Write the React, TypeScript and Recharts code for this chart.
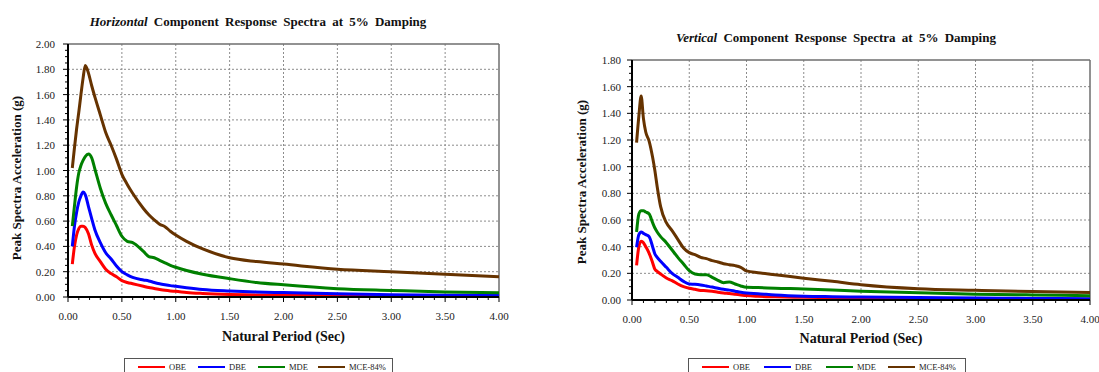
import React from "react";
import { LineChart, Line, XAxis, YAxis, CartesianGrid, ReferenceLine } from "recharts";

// Horizontal component, 5% damping
const hPeriod = [0.04, 0.06, 0.08, 0.1, 0.12, 0.14, 0.16, 0.19, 0.22, 0.25, 0.3, 0.35, 0.4, 0.45, 0.5, 0.55, 0.6, 0.7, 0.75, 0.8, 0.85, 0.9, 0.95, 1.0, 1.1, 1.25, 1.5, 1.75, 2.0, 2.5, 3.0, 3.5, 4.0];
const hOBE = [0.26, 0.4, 0.49, 0.54, 0.56, 0.56, 0.55, 0.5, 0.41, 0.345, 0.28, 0.22, 0.185, 0.16, 0.13, 0.115, 0.105, 0.085, 0.075, 0.068, 0.06, 0.053, 0.048, 0.045, 0.036, 0.028, 0.02, 0.016, 0.013, 0.01, 0.008, 0.006, 0.005];
const hDBE = [0.4, 0.56, 0.67, 0.75, 0.8, 0.83, 0.81, 0.715, 0.62, 0.53, 0.43, 0.35, 0.3, 0.245, 0.2, 0.175, 0.155, 0.135, 0.127, 0.115, 0.105, 0.097, 0.09, 0.085, 0.074, 0.06, 0.048, 0.04, 0.035, 0.025, 0.018, 0.014, 0.012];
const hMDE = [0.56, 0.72, 0.87, 0.98, 1.04, 1.08, 1.11, 1.13, 1.1, 1.01, 0.86, 0.74, 0.65, 0.565, 0.48, 0.44, 0.43, 0.36, 0.32, 0.31, 0.29, 0.27, 0.25, 0.235, 0.21, 0.18, 0.145, 0.115, 0.096, 0.066, 0.052, 0.04, 0.034];
const hMCE = [1.02, 1.18, 1.33, 1.46, 1.6, 1.73, 1.83, 1.77, 1.67, 1.58, 1.44, 1.3, 1.2, 1.09, 0.97, 0.89, 0.82, 0.7, 0.65, 0.61, 0.575, 0.556, 0.52, 0.49, 0.44, 0.38, 0.31, 0.28, 0.26, 0.22, 0.2, 0.18, 0.16];

// Vertical component, 5% damping
const vPeriod = [0.04, 0.06, 0.08, 0.1, 0.12, 0.15, 0.18, 0.2, 0.22, 0.25, 0.3, 0.35, 0.4, 0.45, 0.5, 0.55, 0.6, 0.65, 0.7, 0.75, 0.8, 0.85, 0.9, 0.95, 1.0, 1.1, 1.25, 1.5, 1.75, 2.0, 2.5, 3.0, 3.5, 4.0];
const vOBE = [0.26, 0.4, 0.44, 0.43, 0.4, 0.35, 0.28, 0.23, 0.215, 0.195, 0.165, 0.145, 0.12, 0.1, 0.088, 0.08, 0.072, 0.07, 0.065, 0.058, 0.052, 0.048, 0.043, 0.038, 0.033, 0.028, 0.024, 0.02, 0.017, 0.014, 0.011, 0.008, 0.006, 0.005];
const vDBE = [0.395, 0.49, 0.51, 0.5, 0.49, 0.475, 0.4, 0.345, 0.32, 0.29, 0.245, 0.2, 0.17, 0.14, 0.12, 0.118, 0.113, 0.105, 0.097, 0.088, 0.08, 0.074, 0.066, 0.058, 0.052, 0.047, 0.038, 0.029, 0.025, 0.022, 0.018, 0.015, 0.012, 0.01];
const vMDE = [0.51, 0.645, 0.67, 0.67, 0.66, 0.645, 0.58, 0.54, 0.51, 0.475, 0.43, 0.375, 0.32, 0.27, 0.22, 0.195, 0.19, 0.19, 0.17, 0.148, 0.13, 0.135, 0.12, 0.105, 0.095, 0.093, 0.088, 0.083, 0.075, 0.066, 0.054, 0.044, 0.038, 0.032];
const vMCE = [1.18, 1.38, 1.53, 1.36, 1.26, 1.19, 1.07, 0.97, 0.85, 0.7, 0.58, 0.52, 0.455, 0.39, 0.355, 0.34, 0.32, 0.31, 0.295, 0.285, 0.272, 0.265, 0.258, 0.245, 0.218, 0.205, 0.19, 0.163, 0.14, 0.115, 0.085, 0.073, 0.063, 0.056];

const seriesKeys = ["obe", "dbe", "mde", "mce"];
const seriesNames = ["OBE", "DBE", "MDE", "MCE-84%"];
const seriesColors = ["#ff0000", "#0000ff", "#008000", "#663300"];

const xMajor = [0, 0.5, 1, 1.5, 2, 2.5, 3, 3.5, 4];
const hYMajor = [0, 0.2, 0.4, 0.6, 0.8, 1.0, 1.2, 1.4, 1.6, 1.8, 2.0];
const vYMajor = [0, 0.2, 0.4, 0.6, 0.8, 1.0, 1.2, 1.4, 1.6, 1.8];

const FONT = '"Liberation Serif", "Times New Roman", Times, serif';

const steps = (max: number, step: number) =>
  Array.from({ length: Math.round(max / step) + 1 }, (_, i) => +(i * step).toFixed(3));

const isMultiple = (v: number, step: number) => Math.abs(v / step - Math.round(v / step)) < 1e-6;

const buildRows = (period: number[], obe: number[], dbe: number[], mde: number[], mce: number[]) =>
  period.map((p, i) => ({ period: p, obe: obe[i], dbe: dbe[i], mde: mde[i], mce: mce[i] }));

const XTick = (props: any) => {
  const { x, y, payload } = props;
  const major = isMultiple(payload.value, 0.5);
  return (
    <g>
      <line x1={x} y1={y} x2={x} y2={y + (major ? 5 : 3)} stroke="#000" strokeWidth={1} />
      {major && (
        <text x={x} y={y + 23} textAnchor="middle" fontFamily={FONT} fontSize={11} fill="#222">
          {payload.value.toFixed(2)}
        </text>
      )}
    </g>
  );
};

const makeYTick = (gap: number) => (props: any) => {
  const { x, y, payload } = props;
  const major = isMultiple(payload.value, 0.2);
  return (
    <g>
      <line x1={x} y1={y} x2={x - (major ? 5 : 3)} y2={y} stroke="#000" strokeWidth={1} />
      {major && (
        <text x={x - gap} y={y + 4} textAnchor="end" fontFamily={FONT} fontSize={11} fill="#222">
          {payload.value.toFixed(2)}
        </text>
      )}
    </g>
  );
};

type PanelProps = {
  x0: number;
  width: number;
  plot: { left: number; right: number; top: number; bottom: number };
  yMax: number;
  yMajor: number[];
  rows: any[];
  italic: string;
  title: string;
  titleY: number;
  titleCx: number;
  xTitleY: number;
  yTitleCx: number;
  yTitleCy: number;
  labelGap: number;
  legend: { left: number; width: number; pitch: number };
};

function Panel(p: PanelProps) {
  const margin = { top: p.plot.top, right: p.width - (p.plot.right - p.x0), left: 0, bottom: 0 };
  const plotCx = (p.plot.left + p.plot.right) / 2 - p.x0;
  return (
    <div style={{ position: "absolute", left: p.x0, top: 0, width: p.width, height: 372, overflow: "hidden" }}>
      <div
        style={{
          position: "absolute",
          left: p.titleCx - p.x0 - 250,
          width: 500,
          top: p.titleY - 8,
          lineHeight: "16px",
          textAlign: "center",
          fontFamily: FONT,
          fontWeight: "bold",
          fontSize: 13,
          wordSpacing: 3,
          color: "#111",
        }}
      >
        <i>{p.italic}</i> {p.title}
      </div>
      <LineChart width={p.width} height={372} data={p.rows} margin={margin}>
        <CartesianGrid
          stroke="#8c8c8c"
          strokeDasharray="2 2"
          verticalValues={xMajor.slice(1, -1)}
          horizontalValues={p.yMajor.slice(1, -1)}
        />
        <XAxis
          dataKey="period"
          type="number"
          domain={[0, 4]}
          ticks={steps(4, 0.1)}
          interval={0}
          tickSize={0}
          tickMargin={0}
          tickLine={false}
          height={372 - p.plot.bottom}
          axisLine={{ stroke: "#000", strokeWidth: 2 }}
          tick={XTick}
          allowDataOverflow
        />
        <YAxis
          type="number"
          domain={[0, p.yMax]}
          ticks={steps(p.yMax, 0.05)}
          interval={0}
          tickSize={0}
          tickMargin={0}
          tickLine={false}
          width={p.plot.left - p.x0}
          axisLine={{ stroke: "#000", strokeWidth: 2 }}
          tick={makeYTick(p.labelGap)}
          allowDataOverflow
        />
        <ReferenceLine x={4} stroke="#6e6e6e" strokeWidth={1.5} />
        <ReferenceLine y={p.yMax} stroke="#6e6e6e" strokeWidth={1.5} />
        {seriesKeys.map((k, i) => (
          <Line
            key={k}
            dataKey={k}
            name={seriesNames[i]}
            type="monotone"
            stroke={seriesColors[i]}
            strokeWidth={3}
            dot={false}
            isAnimationActive={false}
          />
        ))}
      </LineChart>
      <div
        style={{
          position: "absolute",
          left: plotCx - 200,
          width: 400,
          top: p.xTitleY - 9,
          lineHeight: "18px",
          textAlign: "center",
          fontFamily: FONT,
          fontWeight: "bold",
          fontSize: 14,
          color: "#111",
        }}
      >
        Natural Period (Sec)
      </div>
      <div
        style={{
          position: "absolute",
          left: p.yTitleCx - p.x0 - 150,
          width: 300,
          top: p.yTitleCy - 8,
          lineHeight: "16px",
          textAlign: "center",
          fontFamily: FONT,
          fontWeight: "bold",
          fontSize: 13,
          color: "#111",
          transform: "rotate(-90deg)",
        }}
      >
        Peak Spectra Acceleration (g)
      </div>
      <div
        style={{
          position: "absolute",
          left: p.legend.left - p.x0,
          width: p.legend.width,
          top: 358,
          height: 22,
          border: "1.5px solid #555",
          boxSizing: "border-box",
          background: "#fff",
        }}
      >
        {seriesNames.map((n, i) => (
          <div
            key={n}
            style={{
              position: "absolute",
              left: 13 + i * p.legend.pitch,
              top: 2,
              display: "flex",
              alignItems: "center",
              height: 12,
            }}
          >
            <div style={{ width: 27, height: 1.5, background: seriesColors[i] }} />
            <span style={{ marginLeft: 4, fontFamily: FONT, fontSize: 8.5, color: "#222" }}>{n}</span>
          </div>
        ))}
      </div>
    </div>
  );
}

export default function App() {
  const hRows = buildRows(hPeriod, hOBE, hDBE, hMDE, hMCE);
  const vRows = buildRows(vPeriod, vOBE, vDBE, vMDE, vMCE);
  return (
    <div style={{ position: "absolute", left: 0, top: 0, width: 1099, height: 372, background: "#fff", overflow: "hidden" }}>
      <Panel
        x0={0}
        width={550}
        plot={{ left: 68, right: 499, top: 44, bottom: 297 }}
        yMax={2}
        yMajor={hYMajor}
        rows={hRows}
        italic="Horizontal"
        title="Component Response Spectra at 5% Damping"
        titleY={22}
        titleCx={258}
        xTitleY={337}
        yTitleCx={17}
        yTitleCy={178}
        labelGap={13}
        legend={{ left: 124, width: 269, pitch: 60 }}
      />
      <Panel
        x0={550}
        width={549}
        plot={{ left: 632, right: 1090, top: 60, bottom: 300 }}
        yMax={1.8}
        yMajor={vYMajor}
        rows={vRows}
        italic="Vertical"
        title="Component Response Spectra at 5% Damping"
        titleY={38}
        titleCx={836}
        xTitleY={339}
        yTitleCx={582}
        yTitleCy={182}
        labelGap={11}
        legend={{ left: 688, width: 278, pitch: 62 }}
      />
    </div>
  );
}
